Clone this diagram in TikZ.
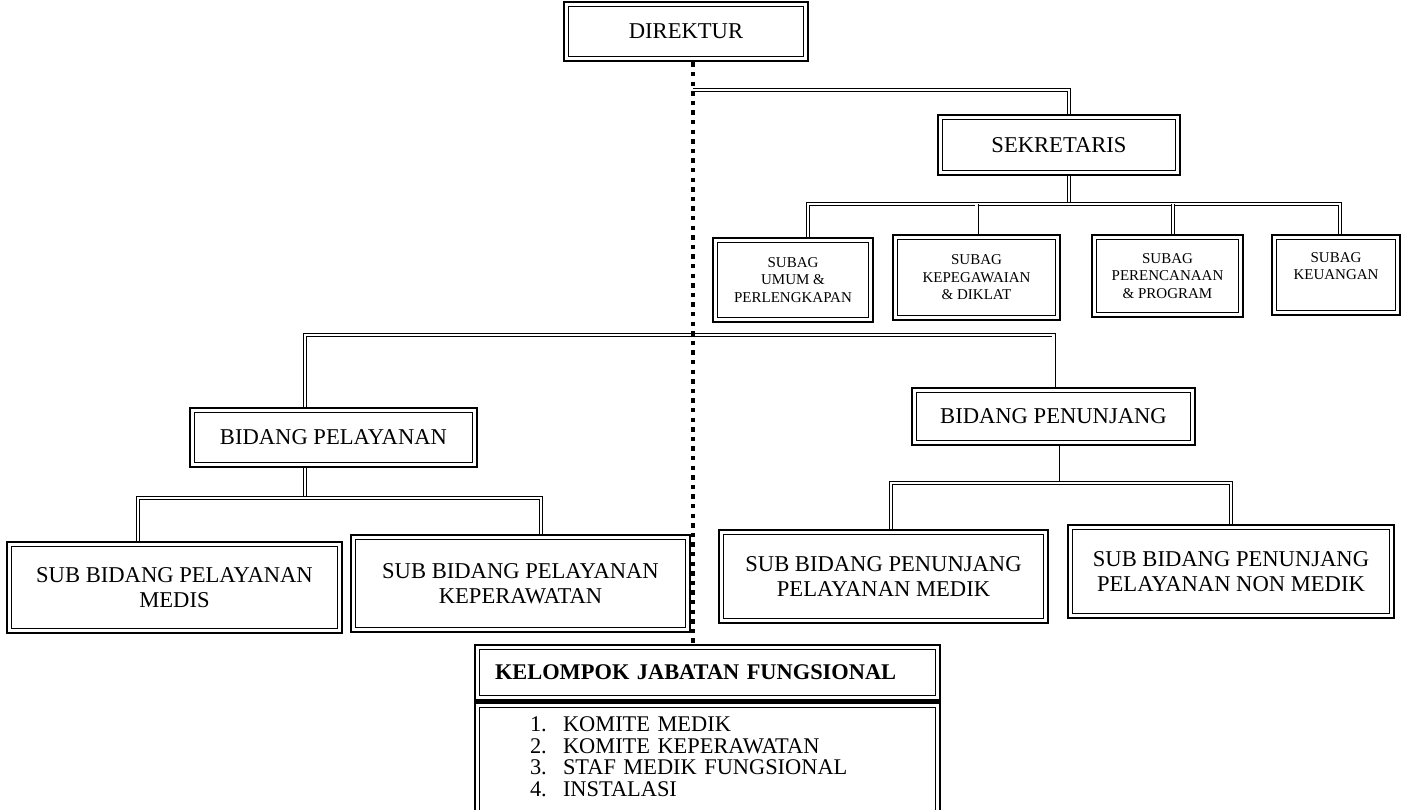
\documentclass[tikz,border=0pt]{standalone}
\usepackage{fontspec}
\setmainfont{Liberation Serif}

\begin{document}
\begin{tikzpicture}[x=0.5pt,y=-0.5pt,
    kotak/.style={draw,line width=1.4pt,align=center,inner sep=0pt,
      font=\fontsize{11.3}{12.5}\selectfont,
      path picture={\draw[line width=0.6pt]
        ([shift={(2.4pt,2.4pt)}]path picture bounding box.south west) rectangle
        ([shift={(-2.4pt,-2.4pt)}]path picture bounding box.north east);}},
    subag/.style={kotak,font=\fontsize{7.5}{8.8}\selectfont},
    garis/.style={double,line width=0.45pt,double distance=1.1pt},
    titik/.style={line width=2pt,dash pattern=on 2.2pt off 2.6pt}]
    \useasboundingbox (0,0) rectangle (1403,809);
    \clip (0,0) rectangle (1403,809);
    \node[kotak,minimum width=122pt,minimum height=29.5pt] (dir) at (686,31.5) {DIREKTUR};
    \node[kotak,minimum width=121pt,minimum height=30pt] (sek) at (1059,145) {SEKRETARIS};
    \node[subag,minimum width=80pt,minimum height=42pt] (s1) at (793,280) {SUBAG\\UMUM \&\\PERLENGKAPAN};
    \node[subag,minimum width=83.5pt,minimum height=42.5pt] (s2) at (976.5,277.5) {SUBAG\\KEPEGAWAIAN\\\& DIKLAT};
    \node[subag,minimum width=75.5pt,minimum height=41pt] (s3) at (1167.5,276) {SUBAG\\PERENCANAAN\\\& PROGRAM};
    \node[subag,minimum width=64pt,minimum height=40pt] (s4) at (1336,275) {SUBAG\\KEUANGAN\\\mbox{}};
    \node[kotak,minimum width=143.5pt,minimum height=29.5pt] (bpel) at (333.5,437.5) {BIDANG PELAYANAN};
    \node[kotak,minimum width=141.5pt,minimum height=28.5pt] (bpen) at (1053.5,416.5) {BIDANG PENUNJANG};
    \node[kotak,minimum width=167.5pt,minimum height=45.5pt] (sbm) at (174.5,587.5) {SUB BIDANG PELAYANAN\\MEDIS};
    \node[kotak,minimum width=169.5pt,minimum height=48.5pt] (sbk) at (520.5,583.5) {SUB BIDANG PELAYANAN\\KEPERAWATAN};
    \node[kotak,minimum width=164.5pt,minimum height=46.5pt] (sbpm) at (883.5,576.5) {SUB BIDANG PENUNJANG\\PELAYANAN MEDIK};
    \node[kotak,minimum width=163pt,minimum height=46.5pt] (sbpn) at (1231,571.5) {SUB BIDANG PENUNJANG\\PELAYANAN NON MEDIK};
    \node[kotak,minimum width=232.5pt,minimum height=27.5pt,inner xsep=10pt,text width=212.5pt,align=left,
      font=\fontsize{11.2}{12}\selectfont\bfseries] (kjf) at (707.5,672.5) {KELOMPOK JABATAN FUNGSIONAL};
    \node[kotak,anchor=north,minimum width=232.5pt,inner xsep=27.5pt,inner ysep=7pt,text width=177.5pt,align=left,
      font=\fontsize{11.2}{10.8}\selectfont] (daftar) at (kjf.south)
      {\makebox[16.5pt][l]{1.}KOMITE MEDIK\\
       \makebox[16.5pt][l]{2.}KOMITE KEPERAWATAN\\
       \makebox[16.5pt][l]{3.}STAF MEDIK FUNGSIONAL\\
       \makebox[16.5pt][l]{4.}INSTALASI\rule[-20pt]{0pt}{0pt}};
    \coordinate (ta) at (693,90);
    \coordinate (bs) at (0,204);
    \coordinate (bb) at (0,335);
    \coordinate (bl) at (0,498);
    \coordinate (br) at (0,483);
    \draw[garis] (ta) -| ([xshift=5pt]sek.north);
    \draw[garis] ([xshift=5pt]sek.south) -- ([xshift=5pt]sek.south |- bs);
    \draw[garis] ([xshift=7.5pt]s1.north) |- ([xshift=2pt]s4.north |- bs) -- ([xshift=2pt]s4.north);
    \draw[garis] (s2.north) -- (s2.north |- bs);
    \draw[garis] ([xshift=2.75pt]s3.north) -- ([xshift=2.75pt]s3.north |- bs);
    \draw[garis] ([xshift=-14.25pt]bpel.north) |- (bpen.north |- bb) -- (bpen.north);
    \draw[garis] ([xshift=-14.25pt]bpel.south) -- ([xshift=-14.25pt]bpel.south |- bl);
    \draw[garis] ([xshift=-18.25pt]sbm.north) |- ([xshift=10.25pt]sbk.north |- bl) -- ([xshift=10.25pt]sbk.north);
    \draw[garis] ([xshift=2pt]bpen.south) -- ([xshift=2pt]bpen.south |- br);
    \draw[garis] ([xshift=3.75pt]sbpm.north) |- (sbpn.north |- br) -- (sbpn.north);
    \draw[titik] (dir.south -| ta) -- (kjf.north -| ta);
\end{tikzpicture}
\end{document}
